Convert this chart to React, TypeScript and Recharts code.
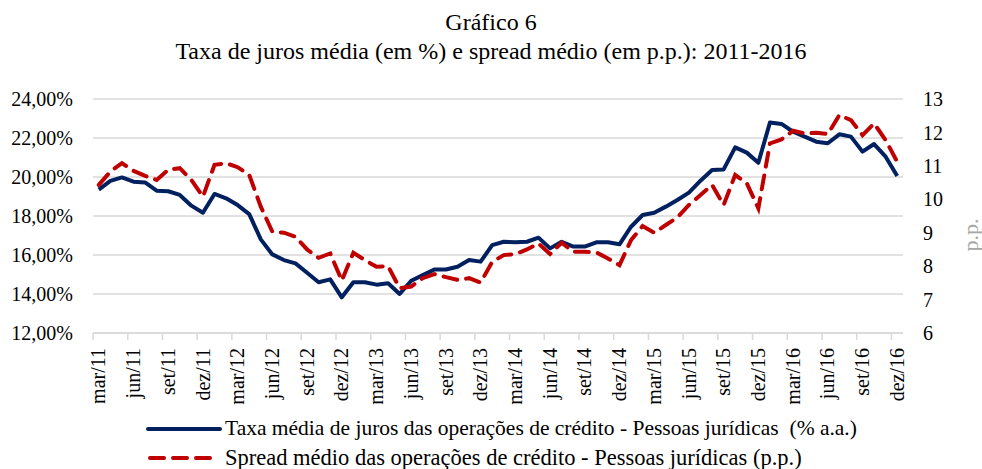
import React from "react";
import { LineChart, Line, XAxis, YAxis, CartesianGrid } from "recharts";

const months = [
  "mar/11","abr/11","mai/11","jun/11","jul/11","ago/11","set/11","out/11","nov/11","dez/11",
  "jan/12","fev/12","mar/12","abr/12","mai/12","jun/12","jul/12","ago/12","set/12","out/12","nov/12","dez/12",
  "jan/13","fev/13","mar/13","abr/13","mai/13","jun/13","jul/13","ago/13","set/13","out/13","nov/13","dez/13",
  "jan/14","fev/14","mar/14","abr/14","mai/14","jun/14","jul/14","ago/14","set/14","out/14","nov/14","dez/14",
  "jan/15","fev/15","mar/15","abr/15","mai/15","jun/15","jul/15","ago/15","set/15","out/15","nov/15","dez/15",
  "jan/16","fev/16","mar/16","abr/16","mai/16","jun/16","jul/16","ago/16","set/16","out/16","nov/16","dez/16",
];

const taxa = [
  19.35, 19.80, 19.98, 19.76, 19.72, 19.30, 19.27, 19.08, 18.53, 18.17,
  19.13, 18.91, 18.56, 18.10, 16.80, 16.03, 15.74, 15.57, 15.09, 14.60, 14.75, 13.83,
  14.60, 14.60, 14.48, 14.55, 14.00, 14.68, 14.97, 15.26, 15.26, 15.40, 15.74, 15.66,
  16.51, 16.68, 16.65, 16.68, 16.89, 16.34, 16.68, 16.43, 16.43, 16.65, 16.65, 16.55,
  17.45, 18.05, 18.17, 18.48, 18.82, 19.20, 19.81, 20.36, 20.39, 21.52, 21.25, 20.73,
  22.79, 22.72, 22.32, 22.07, 21.81, 21.73, 22.19, 22.07, 21.30, 21.69, 21.04, 20.05,
];

const spread = [
  10.43, 10.83, 11.08, 10.85, 10.70, 10.58, 10.88, 10.93, 10.58, 10.08,
  11.03, 11.08, 10.96, 10.73, 9.78, 9.03, 9.00, 8.88, 8.50, 8.25, 8.38, 7.57,
  8.40, 8.18, 7.98, 8.00, 7.34, 7.39, 7.64, 7.76, 7.67, 7.59, 7.64, 7.51,
  8.13, 8.33, 8.36, 8.50, 8.68, 8.36, 8.70, 8.43, 8.43, 8.41, 8.23, 8.03,
  8.78, 9.20, 9.00, 9.23, 9.46, 9.83, 10.13, 10.43, 9.83, 10.73, 10.48, 9.73,
  11.67, 11.79, 12.05, 11.97, 11.99, 11.95, 12.52, 12.37, 11.92, 12.27, 11.77, 11.12,
];

const leftTicks = [12, 14, 16, 18, 20, 22, 24];
const rightTicks = [6, 7, 8, 9, 10, 11, 12, 13];

const title1 = "Gráfico 6";
const title2 = "Taxa de juros média (em %) e spread médio (em p.p.): 2011-2016";
const legend1 = "Taxa média de juros das operações de crédito - Pessoas jurídicas  (% a.a.)";
const legend2 = "Spread médio das operações de crédito - Pessoas jurídicas (p.p.)";
const rightTitle = "p.p.";

const data = months.map((m, i) => ({ m, taxa: taxa[i], spread: spread[i] }));

const W = 982;
const H = 469;
const TOP = 99;
const LEFT_W = 93;
const RIGHT_W = 79;
const XH = 136;
const PLOT_W = W - LEFT_W - RIGHT_W;
const STEP = PLOT_W / months.length;
const FONT = "'Liberation Serif', 'Times New Roman', serif";
const BLUE = "#002060";
const RED = "#C00000";
const GRID = "#d9d9d9";

const XTick = (props: any) => {
  const { x, payload } = props;
  const bx = x - STEP / 2;
  const ay = TOP + (H - TOP - XH);
  return (
    <g>
      <line x1={bx} y1={ay} x2={bx} y2={ay + 7} stroke={GRID} strokeWidth={1.5} />
      <text
        x={x}
        y={ay + 15}
        transform={`rotate(-90, ${x}, ${ay + 15})`}
        textAnchor="end"
        dy="0.33em"
        fontFamily={FONT}
        fontSize={20}
        fill="#000"
      >
        {payload.value}
      </text>
    </g>
  );
};

export default function App() {
  return (
    <div style={{ position: "absolute", left: 0, top: 0, width: W, height: H, background: "#fff", fontFamily: FONT }}>
      <div style={{ position: "absolute", left: 0, width: W, top: 7, textAlign: "center", fontSize: 24, lineHeight: "30px", color: "#000", whiteSpace: "nowrap" }}>
        {title1}
      </div>
      <div style={{ position: "absolute", left: 0, width: W, top: 36, textAlign: "center", fontSize: 24, lineHeight: "30px", color: "#000", whiteSpace: "nowrap" }}>
        {title2}
      </div>
      <LineChart width={W} height={H} data={data} margin={{ top: TOP, right: 0, bottom: 0, left: 0 }}>
        <CartesianGrid vertical={false} stroke={GRID} strokeWidth={1.5} yAxisId="left" />
        <XAxis
          dataKey="m"
          height={XH}
          interval={2}
          padding={{ left: STEP / 2, right: STEP / 2 }}
          tickLine={false}
          axisLine={{ stroke: GRID, strokeWidth: 1.5 }}
          tick={<XTick />}
        />
        <YAxis
          yAxisId="left"
          orientation="left"
          width={LEFT_W}
          domain={[12, 24]}
          ticks={leftTicks}
          tickFormatter={(v: number) => v.toFixed(2).replace(".", ",") + "%"}
          axisLine={false}
          tickLine={false}
          tickSize={0}
          tickMargin={20}
          tick={{ fontFamily: FONT, fontSize: 20, fill: "#000" }}
        />
        <YAxis
          yAxisId="right"
          orientation="right"
          width={RIGHT_W}
          domain={[6, 13]}
          ticks={rightTicks}
          axisLine={false}
          tickLine={false}
          tickSize={0}
          tickMargin={20}
          tick={{ fontFamily: FONT, fontSize: 20, fill: "#000", textAnchor: "start" }}
        />
        <Line
          yAxisId="left"
          type="linear"
          dataKey="taxa"
          stroke={BLUE}
          strokeWidth={4}
          dot={false}
          activeDot={false}
          strokeLinejoin="round"
          isAnimationActive={false}
        />
        <Line
          yAxisId="right"
          type="linear"
          dataKey="spread"
          stroke={RED}
          strokeWidth={4}
          strokeDasharray="14 9"
          strokeLinecap="round"
          dot={false}
          activeDot={false}
          isAnimationActive={false}
        />
      </LineChart>
      <div
        style={{
          position: "absolute",
          left: 971,
          top: 235,
          transform: "translate(-50%, -50%) rotate(-90deg)",
          fontSize: 22,
          lineHeight: "24px",
          color: "#a6a6a6",
          whiteSpace: "nowrap",
        }}
      >
        {rightTitle}
      </div>
      <div style={{ position: "absolute", left: 146, top: 415, fontSize: 21.5, lineHeight: "27px", whiteSpace: "pre" }}>
        <div style={{ display: "flex", alignItems: "center", height: 27 }}>
          <svg width={78} height={10} style={{ marginRight: 1 }}>
            <line x1={2} y1={5} x2={74} y2={5} stroke={BLUE} strokeWidth={4} strokeLinecap="round" />
          </svg>
          <span>{legend1}</span>
        </div>
        <div style={{ display: "flex", alignItems: "center", height: 27, marginTop: 2 }}>
          <svg width={78} height={10} style={{ marginRight: 1 }}>
            <line x1={4} y1={5} x2={66} y2={5} stroke={RED} strokeWidth={4} strokeLinecap="round" strokeDasharray="14 9" />
          </svg>
          <span style={{ fontSize: 22.5 }}>{legend2}</span>
        </div>
      </div>
    </div>
  );
}
